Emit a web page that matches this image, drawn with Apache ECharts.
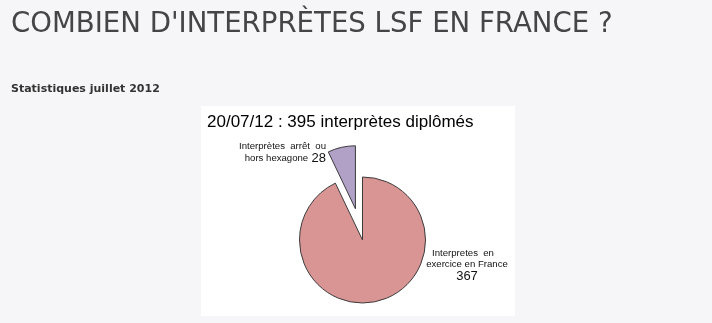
<!DOCTYPE html>
<html>
<head>
<meta charset="utf-8">
<script src="https://cdn.jsdelivr.net/npm/echarts@6/dist/echarts.min.js"></script>
<style>
html,body{margin:0;padding:0;background:#f6f6f8;}
#c{width:712px;height:323px;}
</style>
</head>
<body>
<div id="c"></div>
<script>
// Data
var categories = ['Interpretes en exercice en France', 'Interprètes arrêt ou hors hexagone'];
var values = [367, 28];
var colors = ['#d99594', '#b2a1c7'];
var pageTitle = "COMBIEN D'INTERPRÈTES LSF EN FRANCE ?";
var pageSubtitle = 'Statistiques juillet 2012';
var chartTitle = '20/07/12 : 395 interprètes diplômés';

var chart = echarts.init(document.getElementById('c'), null, {renderer: 'canvas'});

var labelTexts = [
  '{t|Interpretes  en   }\n{t|exercice en France}\n{n|367}',
  '{t|Interprètes  arrêt  ou}\n{t|hors hexagone} {n|28}'
];
var aligns = ['center', 'right'];

var cx = 362.5, cy = 240, R = 63, explode = 32;
var total = values[0] + values[1];
var half = Math.PI * values[1] / total; // half angle of exploded slice
var ex = cx - explode * Math.sin(half), ey = cy - explode * Math.cos(half);

function mkData(showIdx) {
  return categories.map(function (c, i) {
    var visible = i === showIdx;
    return {
      name: c, value: values[i],
      itemStyle: visible ? {color: colors[i], borderColor: '#3c3c3c', borderWidth: 1}
                         : {color: 'rgba(0,0,0,0)', borderWidth: 0},
      label: {
        show: visible, align: aligns[i],
        rich: {
          t: {fontFamily: 'Liberation Sans', fontSize: 9.6, color: '#111', lineHeight: 11, align: aligns[i]},
          n: {fontFamily: 'Liberation Sans', fontSize: 13, color: '#111', lineHeight: 13, align: aligns[i]}
        }
      }
    };
  });
}

var baseSeries = {
  type: 'pie',
  radius: R,
  startAngle: 90,
  clockwise: true,
  silent: true,
  emphasis: {disabled: true},
  labelLine: {show: false},
  label: {
    position: 'outside',
    overflow: 'none',
    fontFamily: 'Liberation Sans',
    color: '#000',
    formatter: function (p) { return labelTexts[p.dataIndex]; }
  },
  labelLayout: function (p) {
    if (p.dataIndex === 0) {
      return {x: 467, y: 265, align: 'center', verticalAlign: 'middle'};
    }
    return {x: 326, y: 153, align: 'right', verticalAlign: 'middle'};
  }
};

var s1 = Object.assign({}, baseSeries, {center: [cx, cy], data: mkData(0)});
var s2 = Object.assign({}, baseSeries, {center: [ex, ey], data: mkData(1)});

var option = {
  backgroundColor: '#f6f6f8',
  animation: false,
  title: [
    {text: pageTitle, left: 6, top: 6,
     textStyle: {fontFamily: 'DejaVu Sans', fontWeight: 'normal', fontSize: 27.6, color: '#454548'}},
    {text: pageSubtitle, left: 6, top: 79,
     textStyle: {fontFamily: 'DejaVu Sans', fontWeight: 'bold', fontSize: 11, color: '#333'}},
    {text: chartTitle, left: 202, top: 109,
     textStyle: {fontFamily: 'Liberation Sans', fontWeight: 'normal', fontSize: 17, color: '#000'}}
  ],
  graphic: [
    {type: 'rect', z: -1, shape: {x: 201, y: 106, width: 314, height: 210}, style: {fill: '#ffffff'}}
  ],
  series: [s1, s2]
};
chart.setOption(option);
</script>
</body>
</html>
